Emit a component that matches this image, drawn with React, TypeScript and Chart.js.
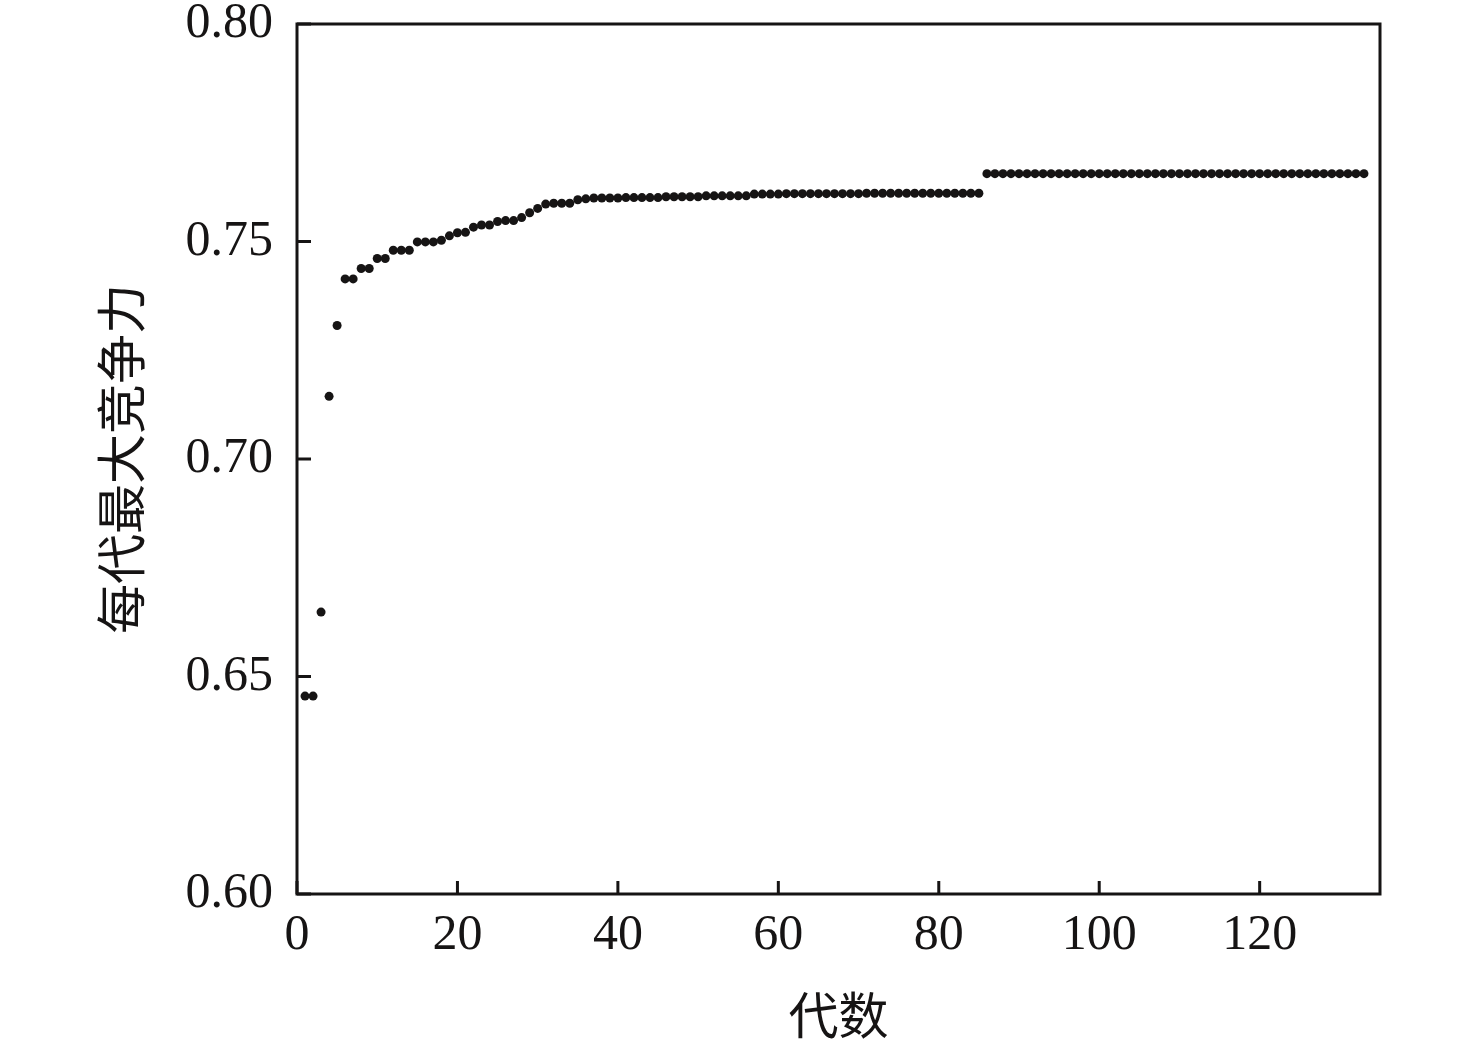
import React, { useEffect, useRef } from "react";
import { Chart, registerables } from "chart.js";

Chart.register(...registerables);

// Maximum competitiveness per generation (generation = index + 1)
const fitness: number[] = [
  0.6455, 0.6455, 0.6648, 0.7144, 0.7307, 0.7414, 0.7414, 0.7438, 0.7438, 0.7461,
  0.7461, 0.7480, 0.7480, 0.7480, 0.7499, 0.7499, 0.7499, 0.7503, 0.7513, 0.7520,
  0.7521, 0.7533, 0.7538, 0.7538, 0.7546, 0.7548, 0.7548, 0.7555, 0.7566, 0.7576,
  0.7586, 0.7588, 0.7588, 0.7588, 0.7596, 0.7598, 0.7600, 0.7600, 0.7600, 0.7600,
  0.7601, 0.7601, 0.7601, 0.7601, 0.7601, 0.7603, 0.7603, 0.7603, 0.7603, 0.7603,
  0.7605, 0.7605, 0.7605, 0.7605, 0.7605, 0.7605, 0.7609, 0.7609, 0.7609, 0.7609,
  0.7610, 0.7610, 0.7610, 0.7610, 0.7610, 0.7610, 0.7610, 0.7610, 0.7610, 0.7610,
  0.7611, 0.7611, 0.7611, 0.7611, 0.7611, 0.7611, 0.7611, 0.7611, 0.7611, 0.7611,
  0.7611, 0.7611, 0.7611, 0.7611, 0.7611, 0.7656, 0.7656, 0.7656, 0.7656, 0.7656,
  0.7656, 0.7656, 0.7656, 0.7656, 0.7656, 0.7656, 0.7656, 0.7656, 0.7656, 0.7656,
  0.7656, 0.7656, 0.7656, 0.7656, 0.7656, 0.7656, 0.7656, 0.7656, 0.7656, 0.7656,
  0.7656, 0.7656, 0.7656, 0.7656, 0.7656, 0.7656, 0.7656, 0.7656, 0.7656, 0.7656,
  0.7656, 0.7656, 0.7656, 0.7656, 0.7656, 0.7656, 0.7656, 0.7656, 0.7656, 0.7656,
  0.7656, 0.7656, 0.7656,
];

const xTickValues: number[] = [0, 20, 40, 60, 80, 100, 120];
const yTickLabels: string[] = ["0.60", "0.65", "0.70", "0.75", "0.80"];
const xTitle = "代数";
const yTitle = "每代最大竞争力";

const INK = "#161414";
const SERIF = "'Liberation Serif', 'Times New Roman', 'Noto Sans CJK SC', serif";
const CJK = "'Liberation Serif', 'Noto Sans CJK SC', serif";

const framePlugin = {
  id: "frameTicks",
  afterDatasetsDraw(chart: any) {
    const { ctx, chartArea: a, scales } = chart;
    ctx.save();
    ctx.strokeStyle = INK;
    ctx.lineWidth = 3;
    ctx.strokeRect(a.left, a.top, a.right - a.left, a.bottom - a.top);
    ctx.beginPath();
    scales.x.ticks.forEach((t: any) => {
      const px = scales.x.getPixelForValue(t.value);
      ctx.moveTo(px, a.bottom);
      ctx.lineTo(px, a.bottom - 13);
    });
    scales.y.ticks.forEach((t: any) => {
      const py = scales.y.getPixelForValue(t.value);
      ctx.moveTo(a.left, py);
      ctx.lineTo(a.left + 14, py);
    });
    ctx.stroke();
    ctx.restore();
  },
};

export default function App() {
  const ref = useRef<HTMLCanvasElement>(null);

  useEffect(() => {
    document.body.style.margin = "0";
    const canvas = ref.current;
    if (!canvas) return;
    const data = fitness.map((v, i) => ({ x: i + 1, y: v }));
    const chart = new Chart(canvas, {
      type: "scatter",
      data: {
        datasets: [
          {
            data,
            backgroundColor: INK,
            borderColor: INK,
            pointRadius: 4.5,
            pointHoverRadius: 4.5,
            borderWidth: 0,
          },
        ],
      },
      options: {
        responsive: false,
        animation: false,
        events: [],
        layout: { padding: { top: 24, right: 96, left: 0, bottom: 0 } },
        plugins: {
          legend: { display: false },
          tooltip: { enabled: false },
        },
        scales: {
          x: {
            type: "linear",
            min: 0,
            max: 135,
            grid: { display: false, drawTicks: false },
            border: { display: false },
            afterBuildTicks: (scale: any) => {
              scale.ticks = xTickValues.map((v) => ({ value: v }));
            },
            afterFit: (scale: any) => {
              scale.height = 157;
              scale.paddingLeft = 0;
              scale.paddingRight = 0;
            },
            ticks: {
              color: INK,
              padding: 12,
              maxRotation: 0,
              autoSkip: false,
              font: { family: SERIF, size: 50 },
              callback: (v: any) => String(v),
            },
            title: {
              display: true,
              text: xTitle,
              color: INK,
              font: { family: CJK, size: 50 },
              padding: { top: 0, bottom: 0 },
            },
          },
          y: {
            type: "linear",
            min: 0.6,
            max: 0.8,
            grid: { display: false, drawTicks: false },
            border: { display: false },
            afterBuildTicks: (scale: any) => {
              scale.ticks = yTickLabels.map((s) => ({ value: parseFloat(s) }));
            },
            afterFit: (scale: any) => {
              scale.width = 297;
              scale.paddingTop = 0;
              scale.paddingBottom = 0;
            },
            ticks: {
              color: INK,
              padding: 24,
              autoSkip: false,
              font: { family: SERIF, size: 50 },
              callback: (v: any) => Number(v).toFixed(2),
            },
            title: {
              display: true,
              text: yTitle,
              color: INK,
              font: { family: CJK, size: 50 },
              padding: { top: 97, bottom: 0 },
            },
          },
        },
      },
      plugins: [framePlugin],
    });
    return () => chart.destroy();
  }, []);

  return (
    <div style={{ width: 1476, height: 1051, background: "#fff" }}>
      <canvas ref={ref} width={1476} height={1051} style={{ display: "block" }} />
    </div>
  );
}
